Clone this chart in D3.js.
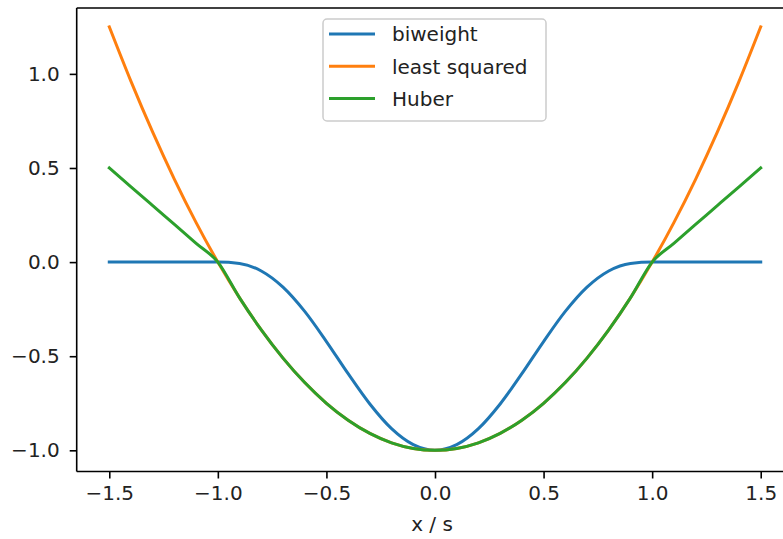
<!DOCTYPE html>
<html>
<head>
<meta charset="utf-8">
<script src="https://cdn.jsdelivr.net/npm/d3@7"></script>
<style>
  html, body { margin: 0; padding: 0; background: #fff; }
  svg { display: block; font-family: "DejaVu Sans", sans-serif; }
</style>
</head>
<body>
<svg id="chart" width="783" height="539"></svg>
<script>
// ---- data ----
const xValues = [-1.5,-1.4,-1.3,-1.2,-1.1,-1.0,-0.9,-0.8,-0.7,-0.6,-0.5,-0.4,-0.3,-0.2,-0.1,0.0,
                 0.1,0.2,0.3,0.4,0.5,0.6,0.7,0.8,0.9,1.0,1.1,1.2,1.3,1.4,1.5];
const biweight = [0,0,0,0,0,0,-0.007,-0.047,-0.133,-0.262,-0.422,-0.593,-0.754,-0.885,-0.970,-1.0,
                  -0.970,-0.885,-0.754,-0.593,-0.422,-0.262,-0.133,-0.047,-0.007,0,0,0,0,0,0];
const leastSquared = [1.25,0.96,0.69,0.44,0.21,0,-0.19,-0.36,-0.51,-0.64,-0.75,-0.84,-0.91,-0.96,-0.99,-1.0,
                      -0.99,-0.96,-0.91,-0.84,-0.75,-0.64,-0.51,-0.36,-0.19,0,0.21,0.44,0.69,0.96,1.25];
const huber = [0.5,0.4,0.3,0.2,0.1,0,-0.19,-0.36,-0.51,-0.64,-0.75,-0.84,-0.91,-0.96,-0.99,-1.0,
               -0.99,-0.96,-0.91,-0.84,-0.75,-0.64,-0.51,-0.36,-0.19,0,0.1,0.2,0.3,0.4,0.5];
const seriesNames = ["biweight", "least squared", "Huber"];
const seriesColors = ["#1f77b4", "#ff7f0e", "#2ca02c"];
const xTicks = [-1.5,-1.0,-0.5,0.0,0.5,1.0,1.5];
const yTicks = [-1.0,-0.5,0.0,0.5,1.0];
const xLabel = "x / s";

// ---- layout ----
const svg = d3.select("#chart");
const x = d3.scaleLinear().domain([-1.65, 1.65]).range([76.7, 793.3]);
const y = d3.scaleLinear().domain([-1.1125, 1.35]).range([471.5, 8]);
const fmt = d3.format(".1f");
const minus = s => s.replace("-", "\u2212");

// lines
const series = [biweight, leastSquared, huber];
const line = d3.line()
  .x((d, i) => x(xValues[i]))
  .y(d => y(d))
  .curve(d3.curveMonotoneX);
series.forEach((s, k) => {
  svg.append("path")
    .datum(s)
    .attr("d", line)
    .attr("fill", "none")
    .attr("stroke", seriesColors[k])
    .attr("stroke-width", 3)
    .attr("stroke-linecap", "square");
});

// spines
const [x0, x1] = x.range();
const [yb, yt] = y.range();
const spine = svg.append("g").attr("stroke", "#000").attr("stroke-width", 1.6).attr("fill", "none");
spine.append("line").attr("x1", x0).attr("x2", x0).attr("y1", yt).attr("y2", yb);
spine.append("line").attr("x1", x0).attr("x2", x1).attr("y1", yt).attr("y2", yt);
spine.append("line").attr("x1", x0).attr("x2", x1).attr("y1", yb).attr("y2", yb);
spine.append("line").attr("x1", x1).attr("x2", x1).attr("y1", yt).attr("y2", yb);

// x axis
const xAxis = svg.append("g").attr("transform", `translate(0,${yb})`)
  .call(d3.axisBottom(x).tickValues(xTicks).tickFormat(d => minus(fmt(d))).tickSize(7).tickPadding(7));
xAxis.select(".domain").remove();
xAxis.selectAll(".tick line").attr("stroke", "#000").attr("stroke-width", 1.6);
xAxis.selectAll(".tick text").attr("font-size", 20).attr("fill", "#222").attr("font-family", "DejaVu Sans");

// y axis
const yAxis = svg.append("g").attr("transform", `translate(${x0},0)`)
  .call(d3.axisLeft(y).tickValues(yTicks).tickFormat(d => minus(fmt(d))).tickSize(7).tickPadding(10));
yAxis.select(".domain").remove();
yAxis.selectAll(".tick line").attr("stroke", "#000").attr("stroke-width", 1.6);
yAxis.selectAll(".tick text").attr("font-size", 20).attr("fill", "#222").attr("font-family", "DejaVu Sans");

// x label
svg.append("text")
  .attr("x", (x(-1.65) + x(1.65)) / 2 - 3)
  .attr("y", 531)
  .attr("text-anchor", "middle")
  .attr("font-size", 20)
  .attr("fill", "#222")
  .text(xLabel);

// legend
const lg = svg.append("g").attr("transform", "translate(323,19)");
lg.append("rect")
  .attr("x", 0).attr("y", 0).attr("width", 223).attr("height", 102)
  .attr("rx", 4).attr("ry", 4)
  .attr("fill", "#fff").attr("fill-opacity", 0.8)
  .attr("stroke", "#cccccc").attr("stroke-width", 1.5);
seriesNames.forEach((name, i) => {
  const cy = 15 + i * 32.2;
  lg.append("line")
    .attr("x1", 6).attr("x2", 52).attr("y1", cy).attr("y2", cy)
    .attr("stroke", seriesColors[i]).attr("stroke-width", 3);
  lg.append("text")
    .attr("x", 69).attr("y", cy + 7.3)
    .attr("font-size", 20).attr("fill", "#222")
    .text(name);
});
</script>
</body>
</html>
